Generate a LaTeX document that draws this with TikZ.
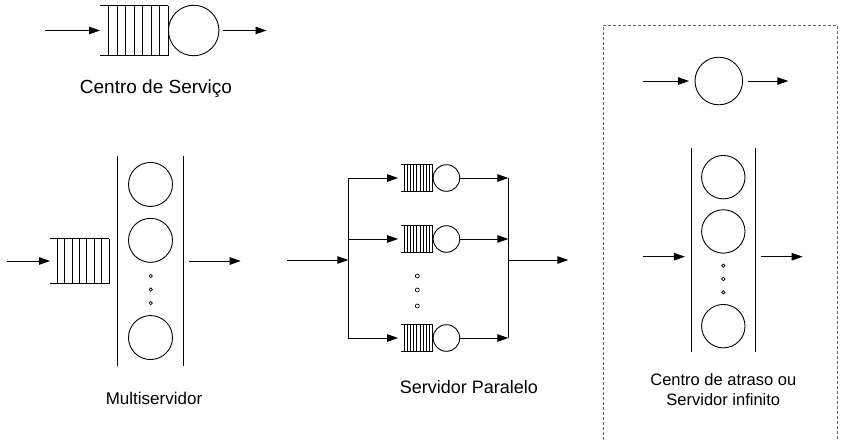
\documentclass[tikz,border=0pt]{standalone}
\usepackage{fontspec}
\setmainfont{Liberation Sans}
\usetikzlibrary{positioning,arrows.meta,calc}

\begin{document}
\begin{tikzpicture}
 [x=1pt, y=-1pt, line width=0.9pt,
  seta/.style={-{Triangle[length=11pt,width=7.5pt]}},
  servidor/.style={circle, draw, inner sep=0pt},
  fila/.style={rectangle, inner sep=0pt, outer sep=0pt},
  banco/.style={rectangle, inner sep=0pt, outer sep=0pt},
  ponto/.style={circle, draw, inner sep=0pt, line width=0.7pt},
  rotulo/.style={inner sep=0pt, align=center}]

\useasboundingbox (0,0) rectangle (842,439);

% centro de servico
\node[fila, minimum width=68pt, minimum height=50pt] (f0) at (134,30.5) {};
\node[servidor, minimum size=50.5pt, right=0pt of f0] (s0) {};
\coordinate (e0) at (45,30.5);
\coordinate (o0) at (266.5,30.5);
\node[rotulo, font=\fontsize{19}{22}\selectfont] (t0) at (156,89) {Centro de Serviço};

% multiservidor
\node[fila, minimum width=59pt, minimum height=45pt] (f1) at (79.5,261) {};
\node[banco, minimum width=66.4pt, minimum height=210pt] (b1) at (150.5,261) {};
\node[servidor, minimum size=44pt, below=6pt of b1.north] (m1) {};
\node[servidor, minimum size=44pt, below=11pt of m1] (m2) {};
\node[servidor, minimum size=44pt, above=6pt of b1.south] (m3) {};
\node[ponto, minimum size=3.4pt] (pa) at (150.7,276) {};
\node[ponto, minimum size=3.4pt] (pb) at (150.7,289.5) {};
\node[ponto, minimum size=3.4pt] (pc) at (150.7,303) {};
\coordinate (e1) at (7,261);
\coordinate (o1) at (240.7,261);
\node[rotulo, font=\fontsize{17}{20}\selectfont] (t1) at (154,398) {Multiservidor};

% servidor paralelo
\node[fila, minimum width=31.6pt, minimum height=26.6pt] (p1) at (416.9,178) {};
\node[fila, minimum width=31.6pt, minimum height=26.6pt] (p2) at (416.9,239) {};
\node[fila, minimum width=31.6pt, minimum height=26.6pt] (p3) at (416.9,338) {};
\node[servidor, minimum size=26.6pt, right=0pt of p1] (c1) {};
\node[servidor, minimum size=26.6pt, right=0pt of p2] (c2) {};
\node[servidor, minimum size=26.6pt, right=0pt of p3] (c3) {};
\node[ponto, minimum size=4pt] (qa) at (417.3,276) {};
\node[ponto, minimum size=4pt] (qb) at (417.3,290) {};
\node[ponto, minimum size=4pt] (qc) at (417.3,306) {};
\coordinate (e2) at (287,260);
\coordinate (d0) at (348.3,260);
\coordinate (d1) at (348.3,178);
\coordinate (d2) at (348.3,239);
\coordinate (d3) at (348.3,338);
\coordinate (j0) at (508.3,260);
\coordinate (j1) at (508.3,178);
\coordinate (j2) at (508.3,239);
\coordinate (j3) at (508.3,338);
\coordinate (o2) at (568.3,260);
\node[rotulo, font=\fontsize{18}{21}\selectfont] (t2) at (469,387) {Servidor Paralelo};

% centro de atraso
\node[servidor, minimum size=47.6pt] (s3) at (718.8,81) {};
\coordinate (e3) at (642.7,81);
\coordinate (o3) at (788.3,81);
\node[banco, minimum width=64.7pt, minimum height=204pt] (b2) at (723.3,250.3) {};
\node[servidor, minimum size=43.4pt, below=6.7pt of b2.north] (n1) {};
\node[servidor, minimum size=43.4pt, below=10pt of n1] (n2) {};
\node[servidor, minimum size=43.4pt, above=4pt of b2.south] (n3) {};
\node[ponto, minimum size=3.4pt] (ra) at (723.3,265.7) {};
\node[ponto, minimum size=3.4pt] (rb) at (723.3,279) {};
\node[ponto, minimum size=3.4pt] (rc) at (723.3,292.3) {};
\coordinate (e4) at (642.7,256.7);
\coordinate (o4) at (802.7,256.7);
\node[rotulo, font=\fontsize{16.5}{20}\selectfont] (t3) at (723.3,390)
  {Centro de atraso ou\\Servidor infinito};
\coordinate (k1) at (603.3,445);
\coordinate (k2) at (603.3,25);
\coordinate (k3) at (837.7,25);
\coordinate (k4) at (837.7,445);
\draw[black!60, line width=0.8pt, dash pattern=on 3pt off 2pt] (k1) -- (k2) -- (k3) -- (k4);

% filas
\foreach \q/\n in {f0/8, f1/8, p1/10, p2/10, p3/10} {
  \draw (\q.north west) -- (\q.north east) (\q.south west) -- (\q.south east);
  \foreach \i in {1,...,\n}
    \draw ($(\q.north west)!\i/\n!(\q.north east)$) -- ($(\q.south west)!\i/\n!(\q.south east)$);
}
\foreach \b in {b1, b2}
  \draw (\b.north west) -- (\b.south west) (\b.north east) -- (\b.south east);

% setas
\draw[seta] (e0) -- (f0);
\draw[seta, shorten <=3.5pt] (s0) -- (o0);
\draw[seta] (e1) -- (f1);
\draw[seta, shorten <=5.5pt] (b1) -- (o1);
\draw[seta] (e2) -- (d0);
\draw (d1) -- (d3);
\draw (j1) -- (j3);
\draw[seta] (j0) -- (o2);
\foreach \i in {1,2,3} {
  \draw[seta, shorten >=3pt] (d\i) -- (p\i);
  \draw[seta] (c\i) -- (j\i);
}
\draw[seta, shorten >=5.5pt] (e3) -- (s3);
\draw[seta, shorten <=5pt] (s3) -- (o3);
\draw[seta, shorten >=6pt] (e4) -- (e4 -| b2.west);
\draw[seta, shorten <=5.3pt] (o4 -| b2.east) -- (o4);

\end{tikzpicture}
\end{document}
